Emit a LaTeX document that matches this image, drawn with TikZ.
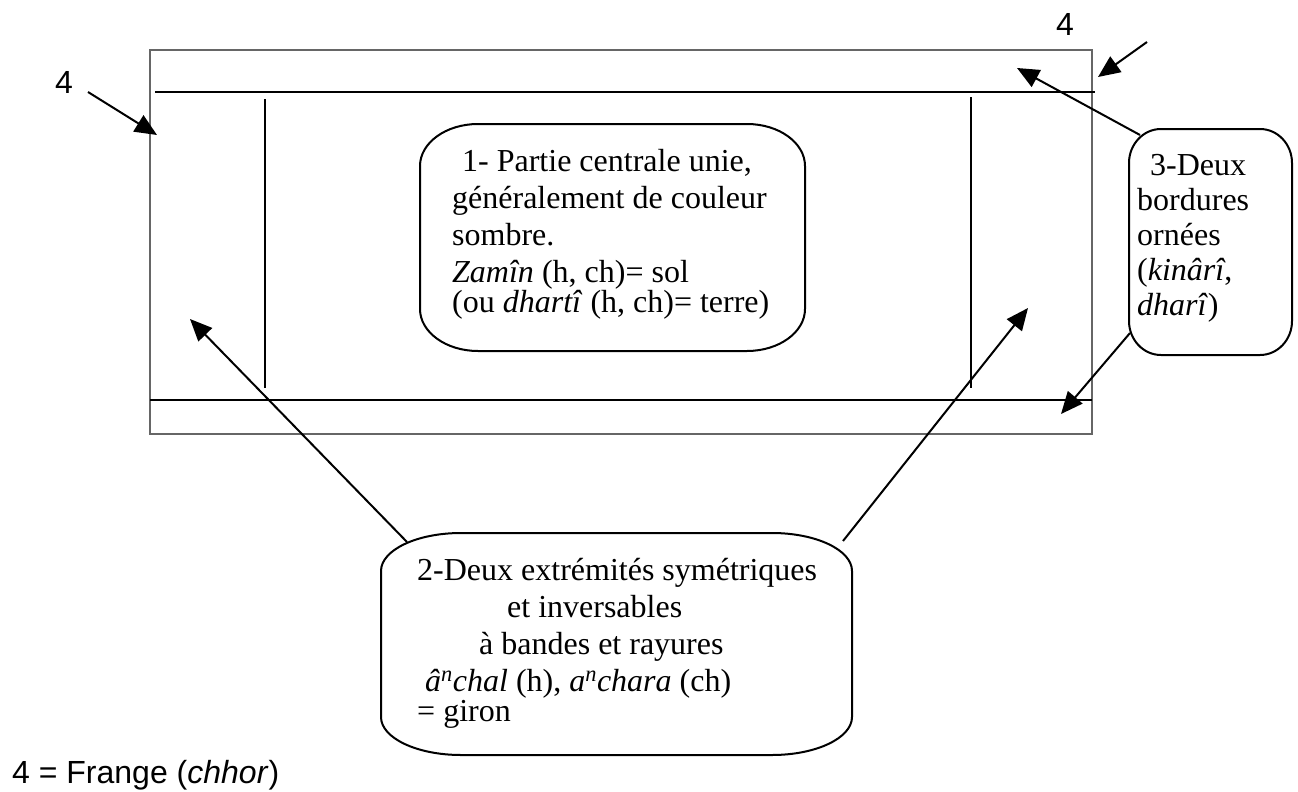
\documentclass[tikz,border=0pt]{standalone}
\usepackage{fontspec}
\setmainfont{Liberation Serif}
\newfontfamily\helv{Liberation Sans}
\usetikzlibrary{arrows.meta,calc}
\newcommand\roundframe[3]{%
  \draw[boxline] ([xshift=#2pt]#1.north west) -- ([xshift=-#2pt]#1.north east)
  arc[start angle=90,end angle=0,x radius=#2pt,y radius=#3pt]
  -- ([yshift=#3pt]#1.south east)
  arc[start angle=0,end angle=-90,x radius=#2pt,y radius=#3pt]
  -- ([xshift=#2pt]#1.south west)
  arc[start angle=270,end angle=180,x radius=#2pt,y radius=#3pt]
  -- ([yshift=-#3pt]#1.north west)
  arc[start angle=180,end angle=90,x radius=#2pt,y radius=#3pt] -- cycle;}
\begin{document}
\begin{tikzpicture}[x=1pt,y=-1pt,
  thinframe/.style={draw=black!60, line width=1.3pt},
  band/.style={draw=black, line width=2pt},
  conn/.style={draw=black, line width=2pt, -{Triangle[length=22pt,width=19pt]}},
  boxline/.style={draw=black, line width=2pt},
  boxarea/.style={rectangle, inner sep=0pt, outer sep=0pt},
  txt/.style={font=\fontsize{32}{37}\selectfont, inner sep=0pt, align=left, anchor=base west},
  sans/.style={font=\helv\fontsize{32}{37}\selectfont, inner sep=0pt}]
\useasboundingbox (0,0) rectangle (1298,792);

% cloth
\draw[thinframe] (150,50) rectangle (1092,434);
\coordinate (tl) at (155,92); \coordinate (tr) at (1095,92);
\coordinate (bl) at (150,400); \coordinate (br) at (1092,400);
\coordinate (vlt) at (265,99); \coordinate (vlb) at (265,388);
\coordinate (vrt) at (971,97); \coordinate (vrb) at (971,388);
\draw[band] (tl) -- (tr);
\draw[band] (bl) -- (br);
\draw[band] (vlt) -- (vlb);
\draw[band] (vrt) -- (vrb);

% boxes
\node[boxarea, minimum width=385pt, minimum height=227pt] (b1) at (612.5,237.5) {};
\node[boxarea, minimum width=471pt, minimum height=222pt] (b2) at (616.5,644) {};
\node[boxarea, minimum width=163pt, minimum height=226pt] (b3) at (1210.5,242) {};
\roundframe{b1}{58}{42}
\roundframe{b2}{80}{38}
\roundframe{b3}{32}{34}

% texts (anchor = baseline of the last line)
\node[txt] (t1) at (452,312) {\hspace*{10pt}1- Partie centrale unie,\\
  généralement de couleur\\ sombre.\\ \textit{Zamîn} (h, ch)= sol\\[-7pt]
  (ou \textit{dhartî} (h, ch)= terre)};
\node[txt] (t2) at (417,721) {2-Deux extrémités symétriques\\
  \hspace*{90pt}et inversables\\ \hspace*{62pt}à bandes et rayures\\
  \hspace*{8pt}\textit{â\textsuperscript{n}chal} (h), \textit{a\textsuperscript{n}chara} (ch)\\[-7pt]
  = giron};
\node[txt, font=\fontsize{32}{35}\selectfont] (t3) at (1137,315) {\hspace*{13pt}3-Deux\\ bordures\\ ornées\\
  (\textit{kinârî},\\ \textit{dharî})};

\node[sans] (four1) at (64,82) {4};
\node[sans] (four2) at (1065,24) {4};
\node[sans, anchor=base west] (legend) at (12,783) {4 = Frange (\textit{chhor})};

% connectors
\coordinate (s1) at (88,92);   \coordinate (e1) at (157,135);
\coordinate (s2) at (1147,42); \coordinate (e2) at (1098,77);
\coordinate (e3) at (1017,68); \coordinate (e4) at (1061,414);
\coordinate (e5) at (190,319); \coordinate (e6) at (1028,308);
\draw[conn] (s1) -- (e1);
\draw[conn] (s2) -- (e2);
\draw[conn] ([shift={(11,6)}]b3.north west) -- (e3);
\draw[conn] ([shift={(1,-22)}]b3.south west) -- (e4);
\draw[conn] ([shift={(26,9)}]b2.north west) -- (e5);
\draw[conn] ([shift={(-9,8)}]b2.north east) -- (e6);
\end{tikzpicture}
\end{document}
